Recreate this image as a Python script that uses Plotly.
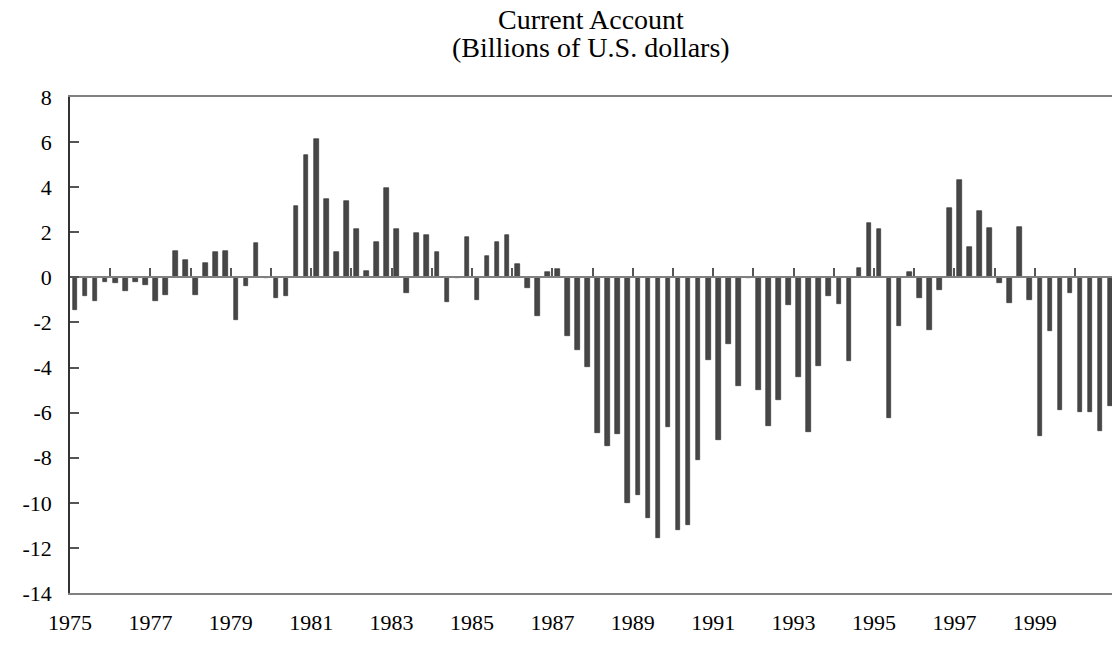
import plotly.graph_objects as go

# Quarterly current account, billions of U.S. dollars, 1975Q1 - 2000Q4
years = list(range(1975, 2001))
quarter_labels = [f"{y}Q{q}" for y in years for q in (1, 2, 3, 4)]
values = [
    -1.46, -0.84, -1.06, -0.22,   # 1975
    -0.27, -0.62, -0.22, -0.35,   # 1976
    -1.06, -0.80, 1.18, 0.78,     # 1977
    -0.80, 0.65, 1.14, 1.18,      # 1978
    -1.91, -0.40, 1.54, -0.05,    # 1979
    -0.93, -0.84, 3.18, 5.44,     # 1980
    6.14, 3.49, 1.14, 3.40,       # 1981
    2.16, 0.30, 1.58, 3.97,       # 1982
    2.16, -0.71, 1.98, 1.89,      # 1983
    1.14, -1.11, -0.05, 1.80,     # 1984
    -1.02, 0.96, 1.58, 1.89,      # 1985
    0.61, -0.49, -1.73, 0.25,     # 1986
    0.38, -2.61, -3.23, -3.99,    # 1987
    -6.91, -7.49, -6.96, -10.01,  # 1988
    -9.66, -10.68, -11.57, -6.65, # 1989
    -11.21, -10.99, -8.11, -3.68, # 1990
    -7.22, -2.97, -4.83, -0.05,   # 1991
    -5.01, -6.60, -5.45, -1.24,   # 1992
    -4.43, -6.87, -3.94, -0.84,   # 1993
    -1.20, -3.72, 0.43, 2.42,     # 1994
    2.16, -6.25, -2.17, 0.25,     # 1995
    -0.93, -2.35, -0.58, 3.09,    # 1996
    4.33, 1.36, 2.95, 2.20,       # 1997
    -0.27, -1.15, 2.25, -1.02,    # 1998
    -7.05, -2.39, -5.89, -0.71,   # 1999
    -5.98, -5.98, -6.82, -5.72,   # 2000
]
label_years = list(range(1975, 2001, 2))
y_ticks = list(range(-14, 9, 2))
title_lines = ["Current Account", "(Billions of U.S. dollars)"]

x_pos = [int(lbl[:4]) + (int(lbl[-1]) - 0.5) / 4 for lbl in quarter_labels]

FONT = "Liberation Serif"
x_range = [1975, 2000.92]
y_range = [-14, 8]

W, H = 1112, 651
M_L, M_R, M_T, M_B = 70, 0, 97, 58
plot_h = H - M_T - M_B

fig = go.Figure()
fig.add_trace(go.Bar(
    x=x_pos, y=values, width=0.115,
    marker=dict(color="#474747", line=dict(color="#2e2e2e", width=0.6)),
    showlegend=False, hoverinfo="y",
))
# helper trace so the zero-line axis (x2) gets drawn
fig.add_trace(go.Scatter(
    x=x_pos, y=values, xaxis="x2", yaxis="y", mode="none",
    showlegend=False, hoverinfo="skip",
))

# title as two annotations (tight line spacing)
for txt, py in zip(title_lines, (20, 48)):
    fig.add_annotation(
        text=txt, xref="paper", x=0.5, xanchor="center",
        yref="paper", y=(H - M_B - py) / plot_h, yanchor="middle",
        showarrow=False, font=dict(family=FONT, size=28, color="black"),
    )

fig.update_layout(
    width=W, height=H,
    margin=dict(l=M_L, r=M_R, t=M_T, b=M_B, autoexpand=False),
    paper_bgcolor="white", plot_bgcolor="white",
    font=dict(family=FONT, size=22, color="black"),
    bargap=0,
    xaxis=dict(
        range=x_range, showgrid=False, zeroline=False, automargin=False,
        showline=True, mirror=True, linecolor="#808080", linewidth=2,
        ticks="", tickmode="array", tickvals=label_years,
        ticktext=[str(y) for y in label_years],
        ticklabelstandoff=9,
        tickfont=dict(family=FONT, size=22, color="black"),
    ),
    xaxis2=dict(
        range=x_range, overlaying="x", anchor="free",
        position=(0 - y_range[0]) / (y_range[1] - y_range[0]),
        side="bottom", showgrid=False, zeroline=False, automargin=False,
        showline=True, linecolor="#808080", linewidth=2,
        ticks="inside", ticklen=8, tickwidth=1.5, tickcolor="#555555",
        tickmode="array", tickvals=years[1:], showticklabels=False,
    ),
    yaxis=dict(
        range=y_range, showgrid=False, zeroline=False, automargin=False,
        showline=True, linecolor="#333333", linewidth=1.5,
        ticks="inside", ticklen=9, tickwidth=1.5, tickcolor="#555555",
        tickmode="array", tickvals=y_ticks,
        ticktext=[str(v) for v in y_ticks],
        ticklabelstandoff=12,
        tickfont=dict(family=FONT, size=22, color="black"),
    ),
)

fig.write_html(
    "out.html",
    config={"displayModeBar": False},
    post_script="document.body.style.margin='0';document.body.style.overflow='hidden';",
)
